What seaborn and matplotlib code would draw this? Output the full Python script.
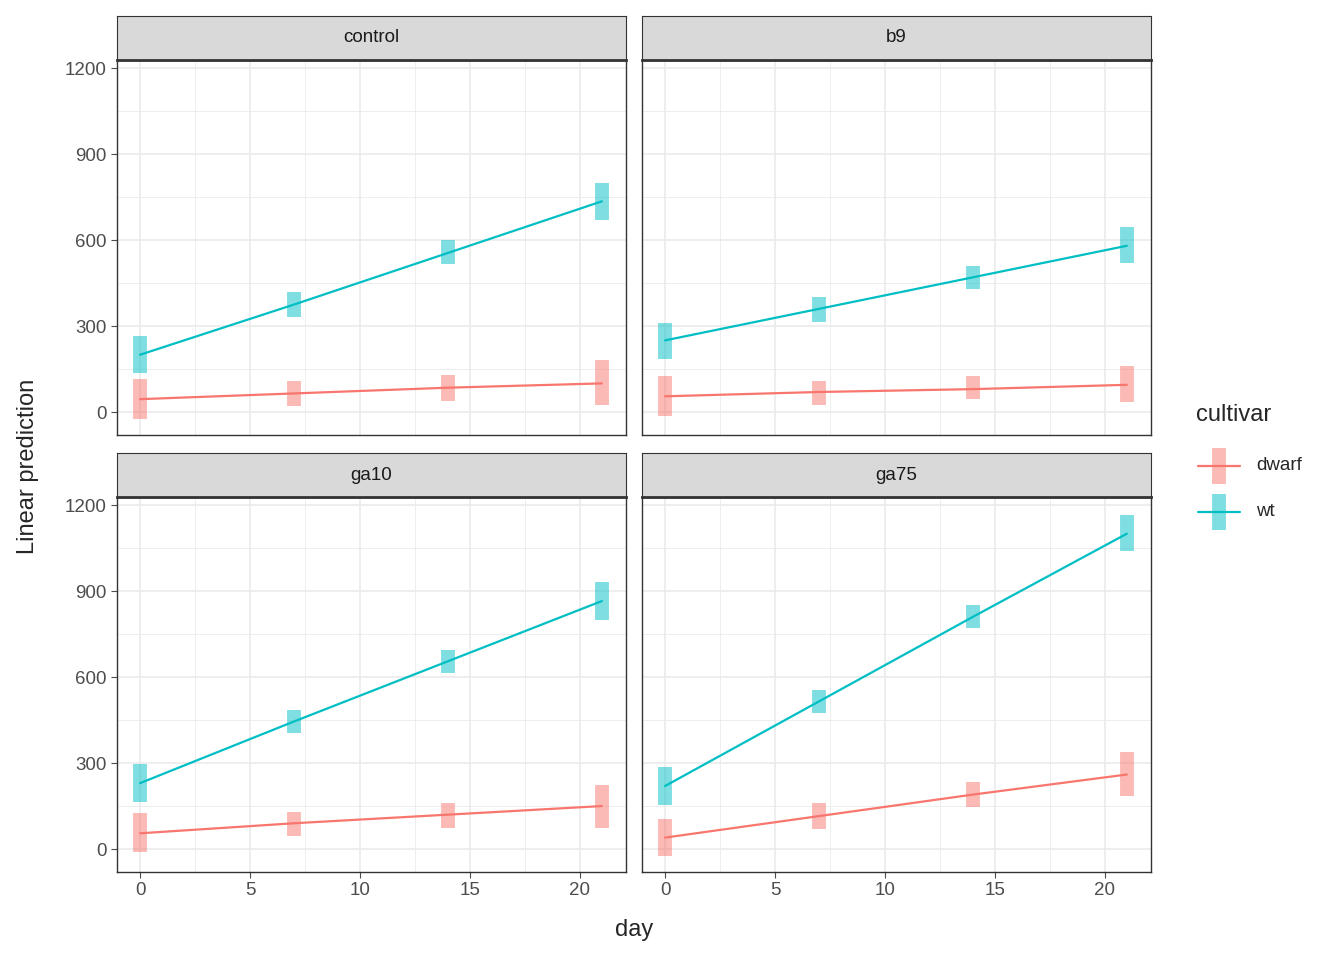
import numpy as np
import pandas as pd
import seaborn as sns
import matplotlib.pyplot as plt

days = [0, 7, 14, 21]
panels = ['control', 'b9', 'ga10', 'ga75']
wt_fit = {'control': [200, 375, 555, 735], 'b9': [250, 360, 470, 580],
          'ga10': [230, 445, 655, 865], 'ga75': [220, 515, 810, 1100]}
wt_lo = {'control': [135, 330, 515, 670], 'b9': [185, 315, 430, 520],
         'ga10': [165, 405, 615, 800], 'ga75': [155, 475, 770, 1040]}
wt_hi = {'control': [265, 420, 600, 800], 'b9': [310, 400, 510, 645],
         'ga10': [295, 485, 695, 930], 'ga75': [285, 555, 850, 1165]}
dw_fit = {'control': [45, 65, 85, 100], 'b9': [55, 70, 80, 95],
          'ga10': [55, 90, 120, 150], 'ga75': [40, 115, 190, 260]}
dw_lo = {'control': [-25, 20, 40, 25], 'b9': [-15, 25, 45, 35],
         'ga10': [-10, 45, 75, 75], 'ga75': [-25, 70, 145, 185]}
dw_hi = {'control': [115, 110, 130, 180], 'b9': [125, 110, 125, 160],
         'ga10': [125, 130, 160, 225], 'ga75': [105, 160, 235, 340]}

rows = []
for p in panels:
    for i, d in enumerate(days):
        rows.append([p, 'dwarf', d, dw_fit[p][i], dw_lo[p][i], dw_hi[p][i]])
        rows.append([p, 'wt', d, wt_fit[p][i], wt_lo[p][i], wt_hi[p][i]])
df = pd.DataFrame(rows, columns=['panel', 'cultivar', 'day', 'fit', 'lo', 'hi'])

colors = {'dwarf': '#F8766D', 'wt': '#00BFC4'}
sns.set_style('white')
plt.rcParams['font.family'] = ['Liberation Sans', 'DejaVu Sans']

W, H = 1344, 960
fig = plt.figure(figsize=(W / 100, H / 100), dpi=100)
boxes = {'control': (117, 60), 'b9': (642, 60), 'ga10': (117, 497), 'ga75': (642, 497)}
pw, ph, sh = 509, 375, 44

for p in panels:
    x0, y0 = boxes[p]
    ax = fig.add_axes([x0 / W, 1 - (y0 + ph) / H, pw / W, ph / H])
    sub = df[df.panel == p]
    for c in ['dwarf', 'wt']:
        s = sub[sub.cultivar == c]
        ax.vlines(s.day, s.lo, s.hi, color=colors[c], lw=10, alpha=0.5, zorder=2)
    sns.lineplot(data=sub, x='day', y='fit', hue='cultivar', palette=colors,
                 ax=ax, legend=False, lw=1.6, zorder=3)
    ax.set_xlim(-1.05, 22.1)
    ax.set_ylim(-80, 1228)
    ax.set_xticks([0, 5, 10, 15, 20])
    ax.set_yticks([0, 300, 600, 900, 1200])
    ax.set_xticks([2.5, 7.5, 12.5, 17.5], minor=True)
    ax.set_yticks([150, 450, 750, 1050], minor=True)
    ax.grid(True, which='major', color='#EBEBEB', lw=1.2)
    ax.grid(True, which='minor', color='#EBEBEB', lw=0.6)
    ax.set_axisbelow(True)
    for sp in ax.spines.values():
        sp.set_color('#333333')
        sp.set_linewidth(1)
    ax.set_xlabel('')
    ax.set_ylabel('')
    ax.tick_params(colors='#4D4D4D', labelsize=13.5, length=4, width=0.8, left=True, bottom=True)
    ax.tick_params(which='minor', length=0)
    if p in ['control', 'b9']:
        ax.tick_params(bottom=False, labelbottom=False)
    if p in ['b9', 'ga75']:
        ax.tick_params(left=False, labelleft=False)
    sx = fig.add_axes([x0 / W, 1 - y0 / H, pw / W, sh / H])
    sx.set_facecolor('#D9D9D9')
    sx.set_xticks([])
    sx.set_yticks([])
    for sp in sx.spines.values():
        sp.set_color('#333333')
    sx.spines['bottom'].set_linewidth(2)
    sx.text(0.5, 0.5, p, ha='center', va='center', fontsize=13.5, color='#1A1A1A')

fig.text(634 / W, 1 - 930 / H, 'day', ha='center', va='center', fontsize=17)
fig.text(28 / W, 1 - 466 / H, 'Linear prediction', ha='center', va='center', fontsize=17, rotation=90)

fig.text(1196 / W, 1 - 415 / H, 'cultivar', ha='left', va='center', fontsize=17)
for i, c in enumerate(['dwarf', 'wt']):
    yy = 1 - (466 + 46 * i) / H
    lx = fig.add_axes([1196 / W, yy - 20 / H, 46 / W, 40 / H])
    lx.set_xlim(0, 1)
    lx.set_ylim(0, 1)
    lx.axis('off')
    lx.vlines(0.5, 0.05, 0.95, color=colors[c], lw=10, alpha=0.5)
    lx.plot([0.05, 0.95], [0.5, 0.5], color=colors[c], lw=1.6)
    fig.text(1256 / W, yy, c, ha='left', va='center', fontsize=13.5)

fig.savefig('out.png', dpi=100)
